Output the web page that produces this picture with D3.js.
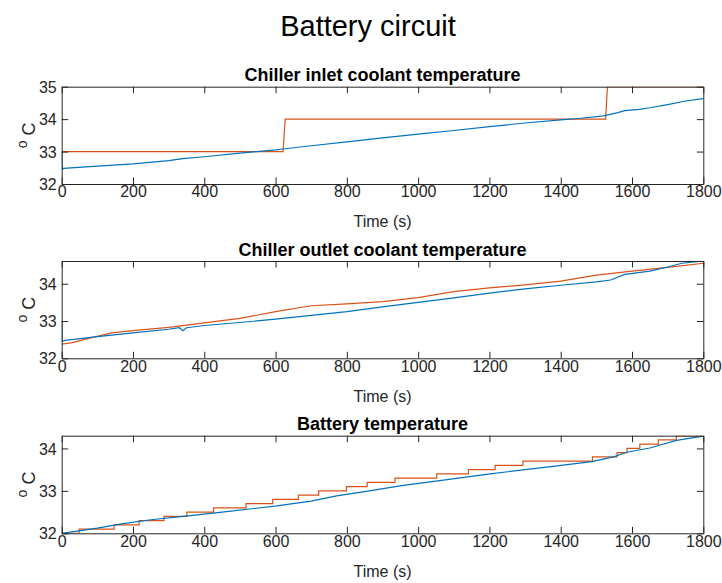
<!DOCTYPE html>
<html>
<head>
<meta charset="utf-8">
<script src="https://cdn.jsdelivr.net/npm/d3@7"></script>
<style>
  body { margin: 0; background: #fff; }
  svg { font-family: "Liberation Sans", Arial, Helvetica, sans-serif; }
</style>
</head>
<body>
<div id="chart"></div>
<script>
// time ticks shared by all panels
var timeTicks = [0, 200, 400, 600, 800, 1000, 1200, 1400, 1600, 1800];

// panel 1: chiller inlet coolant temperature
var inletTitle = "Chiller inlet coolant temperature";
var inletBlueT = [0, 1, 5, 100, 200, 300, 340, 400, 500, 600, 620, 700, 800, 900, 1000, 1100, 1200, 1300, 1400, 1450, 1520, 1560, 1580, 1620, 1650, 1700, 1750, 1800];
var inletBlueV = [33.0, 32.45, 32.48, 32.55, 32.62, 32.72, 32.78, 32.84, 32.95, 33.05, 33.08, 33.18, 33.3, 33.42, 33.54, 33.65, 33.77, 33.88, 33.98, 34.02, 34.1, 34.2, 34.26, 34.3, 34.35, 34.45, 34.56, 34.63];
var inletOrangeT = [0, 621, 627, 1526, 1531, 1800];
var inletOrangeV = [33, 33, 34, 34, 35, 35];
var inletYTicks = [32, 33, 34, 35];

// panel 2: chiller outlet coolant temperature
var outletTitle = "Chiller outlet coolant temperature";
var outletBlueT = [0, 1, 10, 100, 200, 300, 330, 340, 350, 400, 500, 600, 700, 800, 900, 1000, 1100, 1200, 1300, 1400, 1500, 1540, 1580, 1650, 1700, 1740, 1800];
var outletBlueV = [33.0, 32.45, 32.48, 32.58, 32.68, 32.78, 32.82, 32.74, 32.82, 32.88, 32.96, 33.05, 33.15, 33.25, 33.38, 33.5, 33.62, 33.75, 33.86, 33.96, 34.05, 34.1, 34.25, 34.34, 34.45, 34.55, 34.61];
var outletOrangeT = [0, 30, 70, 140, 200, 300, 400, 500, 600, 700, 800, 900, 1000, 1100, 1200, 1300, 1400, 1500, 1600, 1700, 1800];
var outletOrangeV = [32.38, 32.42, 32.52, 32.68, 32.74, 32.83, 32.95, 33.07, 33.25, 33.41, 33.46, 33.52, 33.63, 33.79, 33.89, 33.97, 34.07, 34.23, 34.34, 34.44, 34.55];
var outletYTicks = [32, 33, 34];

// panel 3: battery temperature
var batteryTitle = "Battery temperature";
var batteryBlueT = [0, 100, 168, 250, 355, 450, 598, 700, 771, 850, 958, 1050, 1202, 1300, 1361, 1487, 1548, 1585, 1650, 1725, 1800];
var batteryBlueV = [32.0, 32.12, 32.22, 32.32, 32.41, 32.5, 32.64, 32.76, 32.88, 32.98, 33.13, 33.23, 33.4, 33.5, 33.56, 33.69, 33.8, 33.91, 34.01, 34.19, 34.29];
var batteryOrangeT = [0, 49, 147, 217, 287, 351, 426, 517, 592, 664, 721, 799, 857, 935, 1052, 1141, 1216, 1294, 1489, 1558, 1586, 1622, 1674, 1724, 1800];
var batteryOrangeV = [32.0, 32.1, 32.2, 32.3, 32.4, 32.5, 32.6, 32.7, 32.8, 32.9, 33.0, 33.1, 33.2, 33.3, 33.4, 33.5, 33.6, 33.7, 33.8, 33.9, 34.0, 34.1, 34.2, 34.3, 34.3];
var batteryYTicks = [32, 33, 34];

var W = 722, H = 583;
var blue = "#0072BD", orange = "#D95319", axisCol = "#262626";

var svg = d3.select("#chart").append("svg")
  .attr("width", W).attr("height", H);

svg.append("text")
  .attr("x", 368).attr("y", 36)
  .attr("text-anchor", "middle")
  .attr("font-size", 29)
  .attr("fill", "#000")
  .text("Battery circuit");

var x = d3.scaleLinear().domain([0, 1800]).range([61.7, 703.3]);

var panels = [
  { title: inletTitle, top: 86.7, bottom: 184, ymax: 35, yticks: inletYTicks,
    blue: [inletBlueT, inletBlueV], orange: [inletOrangeT, inletOrangeV], step: false },
  { title: outletTitle, top: 261, bottom: 358.3, ymax: 34.61, yticks: outletYTicks,
    blue: [outletBlueT, outletBlueV], orange: [outletOrangeT, outletOrangeV], step: false },
  { title: batteryTitle, top: 435.7, bottom: 533.3, ymax: 34.3, yticks: batteryYTicks,
    blue: [batteryBlueT, batteryBlueV], orange: [batteryOrangeT, batteryOrangeV], step: true }
];

function zipTV(arr) {
  return arr[0].map(function(t, i) { return [t, arr[1][i]]; });
}

panels.forEach(function(p, k) {
  var y = d3.scaleLinear().domain([32, p.ymax]).range([p.bottom, p.top]);
  var g = svg.append("g");
  var tick = 6.5;

  var clipId = "clip" + k;
  svg.append("clipPath").attr("id", clipId)
    .append("rect")
    .attr("x", x(0)).attr("y", p.top)
    .attr("width", x(1800) - x(0)).attr("height", p.bottom - p.top);

  var lineBlue = d3.line()
    .x(function(d) { return x(d[0]); })
    .y(function(d) { return y(d[1]); });
  var lineOrange = d3.line()
    .x(function(d) { return x(d[0]); })
    .y(function(d) { return y(d[1]); })
    .curve(p.step ? d3.curveStepAfter : d3.curveLinear);

  var lines = g.append("g").attr("clip-path", "url(#" + clipId + ")");
  lines.append("path")
    .attr("d", lineOrange(zipTV(p.orange)))
    .attr("fill", "none").attr("stroke", orange).attr("stroke-width", 1.2);
  lines.append("path")
    .attr("d", lineBlue(zipTV(p.blue)))
    .attr("fill", "none").attr("stroke", blue).attr("stroke-width", 1.2);

  // bottom / top axes with inward ticks
  var xBottom = d3.axisBottom(x).tickValues(timeTicks).tickFormat(d3.format("d"))
    .tickSizeInner(-tick).tickSizeOuter(0).tickPadding(5);
  var gb = g.append("g").attr("transform", "translate(0," + p.bottom + ")").call(xBottom);
  var xTop = d3.axisTop(x).tickValues(timeTicks).tickSizeInner(-tick).tickSizeOuter(0).tickFormat("");
  var gt = g.append("g").attr("transform", "translate(0," + p.top + ")").call(xTop);

  var yLeft = d3.axisLeft(y).tickValues(p.yticks).tickFormat(d3.format("d"))
    .tickSizeInner(-tick).tickSizeOuter(0).tickPadding(5);
  var gl = g.append("g").attr("transform", "translate(" + x(0) + ",0)").call(yLeft);
  var yRight = d3.axisRight(y).tickValues(p.yticks).tickSizeInner(-tick).tickSizeOuter(0).tickFormat("");
  var gr = g.append("g").attr("transform", "translate(" + x(1800) + ",0)").call(yRight);

  [gb, gt, gl, gr].forEach(function(a) {
    a.select(".domain").attr("stroke", axisCol).attr("stroke-width", 1);
    a.selectAll(".tick line").attr("stroke", axisCol).attr("stroke-width", 1);
    a.selectAll("text").attr("fill", axisCol).attr("font-size", 16)
      .attr("font-family", "Liberation Sans, Arial, sans-serif");
  });
  gb.selectAll("text").attr("dy", null).attr("y", 13.4);
  gl.selectAll("text").attr("dy", "0.35em");

  g.append("text")
    .attr("x", (x(0) + x(1800)) / 2).attr("y", p.top - 5.5)
    .attr("text-anchor", "middle")
    .attr("font-size", 18).attr("font-weight", "bold").attr("fill", "#000")
    .text(p.title);

  g.append("text")
    .attr("x", (x(0) + x(1800)) / 2).attr("y", p.bottom + 43.4)
    .attr("text-anchor", "middle")
    .attr("font-size", 16).attr("fill", axisCol)
    .text("Time (s)");

  var yl = g.append("text")
    .attr("transform", "translate(33," + ((p.top + p.bottom) / 2) + ") rotate(-90)")
    .attr("text-anchor", "middle")
    .attr("font-size", 18).attr("fill", axisCol);
  yl.append("tspan").attr("font-size", 14).attr("dy", "-0.45em").text("o");
  yl.append("tspan").attr("dy", "0.45em").text(" C");
});
</script>
</body>
</html>
